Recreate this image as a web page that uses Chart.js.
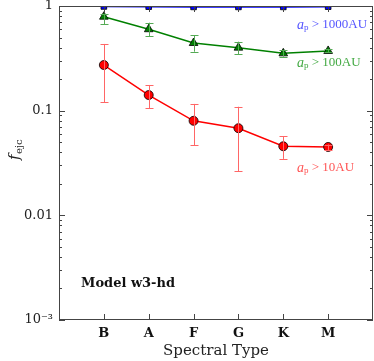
<!DOCTYPE html>
<html>
<head>
<meta charset="utf-8">
<script src="https://cdn.jsdelivr.net/npm/chart.js@4"></script>
<style>
  html, body { margin: 0; padding: 0; background: #fff; }
  #wrap { width: 374px; height: 361px; }
</style>
</head>
<body>
<div id="wrap"><canvas id="chart_ejc" width="374" height="361"></canvas></div>
<script>
// spectral types on the x axis
const categories = ['B', 'A', 'F', 'G', 'K', 'M'];

// a_p > 10AU
const f10 = [0.273, 0.141, 0.080, 0.068, 0.0457, 0.045];
const f10Hi = [0.434, 0.176, 0.116, 0.109, 0.0569, 0.0475];
const f10Lo = [0.121, 0.106, 0.047, 0.0264, 0.0346, 0.0421];

// a_p > 100AU
const f100 = [0.79, 0.60, 0.443, 0.40, 0.353, 0.372];
const f100Hi = [0.84, 0.693, 0.525, 0.456, 0.38, 0.385];
const f100Lo = [0.673, 0.517, 0.366, 0.348, 0.328, 0.36];

// a_p > 1000AU
const f1000 = [0.99, 0.985, 0.98, 0.98, 0.98, 0.985];

const yTicks = [1, 0.1, 0.01, 0.001];
const yTickLabels = ['1', '0.1', '0.01', '10\u207B\u00B3'];

const SERIF = '"DejaVu Serif", "Liberation Serif", serif';
const TIMES = '"Liberation Serif", serif';
const frameColor = '#444';

function toPoints(arr) {
    return arr.map((v, i) => ({ x: i, y: v }));
}

function noPadding(s) {
    s.paddingTop = 0;
    s.paddingBottom = 0;
    s.paddingLeft = 0;
    s.paddingRight = 0;
}

// error bars, drawn through the scales
const errorBars = {
    id: 'errorBars',
    afterDatasetsDraw(chart, args, opts) {
        const { ctx, scales: { x, y } } = chart;
        ctx.save();
        ctx.lineWidth = 1;
        for (const s of opts.series) {
            ctx.strokeStyle = s.color;
            for (let i = 0; i < s.hi.length; i++) {
                const px = Math.round(x.getPixelForValue(i)) + 0.5;
                const yh = y.getPixelForValue(s.hi[i]);
                const yl = y.getPixelForValue(s.lo[i]);
                ctx.beginPath();
                ctx.moveTo(px, yh); ctx.lineTo(px, yl);
                ctx.moveTo(px - 4, Math.round(yh) + 0.5); ctx.lineTo(px + 4, Math.round(yh) + 0.5);
                ctx.moveTo(px - 4, Math.round(yl) + 0.5); ctx.lineTo(px + 4, Math.round(yl) + 0.5);
                ctx.stroke();
            }
        }
        ctx.restore();
    }
};

// frame, inward ticks, axis titles and annotations
const decorations = {
    id: 'decorations',
    afterDraw(chart) {
        const { ctx, chartArea: { top, bottom, left, right }, scales: { x, y } } = chart;
        ctx.save();
        ctx.strokeStyle = frameColor;
        ctx.lineWidth = 1;
        ctx.strokeRect(left + 0.5, top + 0.5, right - left - 1, bottom - top - 1);

        ctx.beginPath();
        for (let d = -3; d < 0; d++) {
            for (let m = 1; m < 10; m++) {
                const v = m * Math.pow(10, d);
                const py = Math.round(y.getPixelForValue(v)) + 0.5;
                const len = m === 1 ? 6 : 3;
                ctx.moveTo(left, py); ctx.lineTo(left + len, py);
                ctx.moveTo(right, py); ctx.lineTo(right - len, py);
            }
        }
        for (let i = 0; i < categories.length; i++) {
            const px = Math.round(x.getPixelForValue(i)) + 0.5;
            ctx.moveTo(px, bottom); ctx.lineTo(px, bottom - 6);
            ctx.moveTo(px, top); ctx.lineTo(px, top + 6);
        }
        ctx.stroke();

        // x title
        ctx.fillStyle = '#222';
        ctx.textAlign = 'center';
        ctx.textBaseline = 'middle';
        ctx.font = '15px ' + SERIF;
        ctx.fillText('Spectral Type', (left + right) / 2, 351);

        // y title f_ejc
        ctx.save();
        ctx.translate(15, 150);
        ctx.rotate(-Math.PI / 2);
        ctx.textAlign = 'left';
        ctx.font = 'italic 15px ' + SERIF;
        ctx.fillText('f', -10, 0);
        ctx.font = '10px ' + SERIF;
        ctx.fillText('ejc', -4, 4);
        ctx.restore();

        // series labels
        const label = (txt, color, x0, y0) => {
            ctx.fillStyle = color;
            ctx.textAlign = 'left';
            ctx.font = 'italic 14px ' + TIMES;
            ctx.fillText('a', x0, y0);
            const wa = ctx.measureText('a').width;
            ctx.font = '9px ' + TIMES;
            ctx.fillText('p', x0 + wa, y0 + 3);
            const wp = ctx.measureText('p').width;
            ctx.font = '13px ' + TIMES;
            ctx.fillText(' > ' + txt, x0 + wa + wp, y0);
        };
        label('1000AU', '#5555ff', 297, 25);
        label('100AU', '#44aa44', 297, 63);
        label('10AU', '#ff5555', 297, 168);

        ctx.fillStyle = '#111';
        ctx.font = '600 13px ' + SERIF;
        ctx.fillText('Model w3-hd', 81, 284);
        ctx.restore();
    }
};

const ctx = document.getElementById('chart_ejc');

new Chart(ctx, {
    type: 'line',
    data: {
        datasets: [
            {
                data: toPoints(f1000),
                borderColor: '#0000ff',
                borderWidth: 1.5,
                pointStyle: 'rect',
                pointRadius: 4,
                pointBackgroundColor: '#0000ff',
                pointBorderColor: '#000',
                pointBorderWidth: 0.8
            },
            {
                data: toPoints(f100),
                borderColor: '#008000',
                borderWidth: 1.5,
                pointStyle: 'triangle',
                pointRadius: 5,
                pointBackgroundColor: '#008000',
                pointBorderColor: '#000',
                pointBorderWidth: 0.8
            },
            {
                data: toPoints(f10),
                borderColor: '#ff0000',
                borderWidth: 1.5,
                pointStyle: 'circle',
                pointRadius: 4.5,
                pointBackgroundColor: '#ff0000',
                pointBorderColor: '#000',
                pointBorderWidth: 0.8
            }
        ]
    },
    plugins: [errorBars, decorations],
    options: {
        responsive: false,
        animation: false,
        layout: {
            autoPadding: false,
            padding: { top: 6, right: 1, left: 0, bottom: 0 }
        },
        scales: {
            x: {
                type: 'linear',
                min: -1,
                max: 6,
                afterFit: (s) => { s.height = 41; noPadding(s); },
                afterBuildTicks: (s) => { s.ticks = categories.map((c, i) => ({ value: i })); },
                grid: { display: false, drawTicks: false },
                border: { display: false },
                ticks: {
                    padding: 6,
                    color: '#111',
                    font: { family: SERIF, size: 13, weight: 'bold' },
                    callback: (v) => categories[v]
                }
            },
            y: {
                type: 'logarithmic',
                min: 0.001,
                max: 1,
                afterFit: (s) => { s.width = 59; noPadding(s); },
                afterBuildTicks: (s) => { s.ticks = yTicks.map(v => ({ value: v })); },
                grid: { display: false, drawTicks: false },
                border: { display: false },
                ticks: {
                    padding: 6,
                    color: '#222',
                    font: { family: SERIF, size: 13 },
                    callback: (v) => yTickLabels[yTicks.indexOf(v)]
                }
            }
        },
        plugins: {
            legend: { display: false },
            tooltip: { enabled: false },
            errorBars: {
                series: [
                    { hi: f10Hi, lo: f10Lo, color: '#ff6666' },
                    { hi: f100Hi, lo: f100Lo, color: '#55aa55' }
                ]
            }
        }
    }
});
</script>
</body>
</html>
